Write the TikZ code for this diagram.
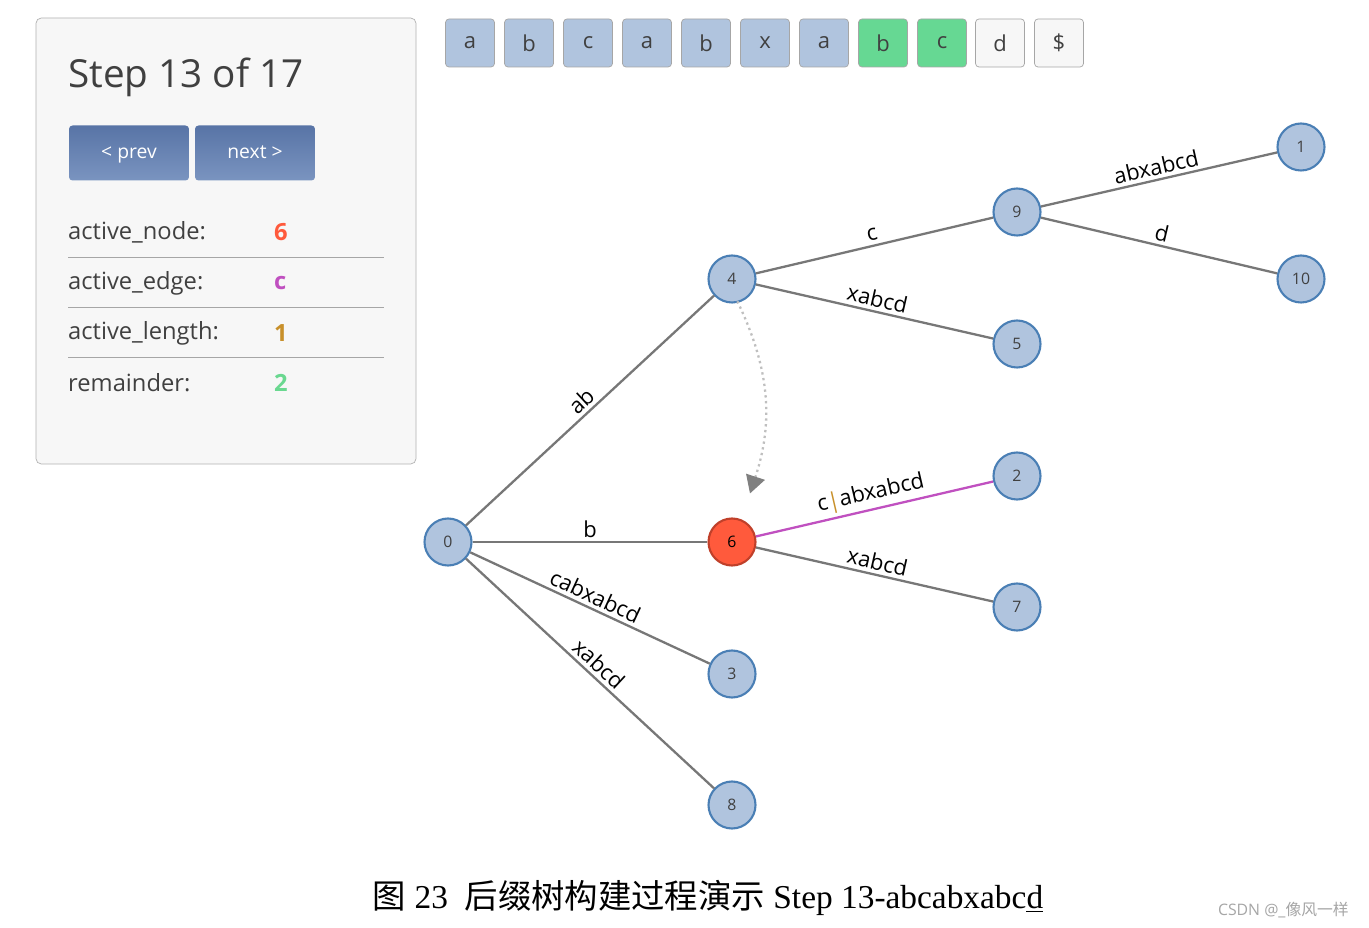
\documentclass[tikz,border=0pt]{standalone}
\usepackage{fontspec}
\setmainfont{Open Sans}
\newfontfamily\capfont{Liberation Serif}
\newfontfamily\cjk{Noto Sans CJK SC}
\usetikzlibrary{positioning, arrows.meta, calc, shadings}
\definecolor{nodeblue}{HTML}{B0C4DE}
\definecolor{nodeedge}{HTML}{4A7FB5}
\definecolor{activered}{HTML}{FF5A3C}
\definecolor{activeedge}{HTML}{C0402A}
\definecolor{edgegray}{HTML}{777777}
\definecolor{magentaedge}{HTML}{C050C0}
\definecolor{lengthgold}{HTML}{C8902A}
\definecolor{remgreen}{HTML}{6AD890}
\definecolor{cellgreen}{HTML}{66D893}
\definecolor{textgray}{HTML}{404040}
\definecolor{buttontop}{HTML}{5874A6}
\definecolor{buttonbottom}{HTML}{7A94C0}
\tikzset{
    tnode/.style={circle, draw=nodeedge, fill=nodeblue, line width=1.2pt,
      minimum size=0.94cm, inner sep=0pt, font=\fontsize{9}{10}\selectfont, text=textgray},
    activenode/.style={tnode, draw=activeedge, fill=activered, text=black},
    tedge/.style={draw=edgegray, line width=1.3pt},
    elabel/.style={sloped, above, font=\fontsize{12.5}{14}\selectfont, inner sep=2pt},
    cell/.style={draw=gray!70, rounded corners=2pt, minimum width=0.98cm,
      minimum height=0.96cm, font=\fontsize{12.5}{14}\selectfont, text=textgray},
    button/.style={rounded corners=2pt, top color=buttontop, bottom color=buttonbottom,
      minimum width=2.4cm, minimum height=1.1cm, text height=8pt, text depth=2pt,
      text=white, font=\fontsize{11}{13}\selectfont},
    rowlabel/.style={anchor=west, font=\fontsize{13.5}{16}\selectfont, text=textgray},
    rowvalue/.style={anchor=west, font=\bfseries\fontsize{13.5}{16}\selectfont},
}
\begin{document}
\begin{tikzpicture}[x=0.02cm, y=-0.02cm]
    \useasboundingbox[fill=white] (0,0) rectangle (1369,928);

    % control panel
    \draw[draw=gray!60, fill=black!3, rounded corners=3pt] (36,18) rectangle (416,464);
    \node[anchor=west, font=\fontsize{22}{26}\selectfont, text=textgray] (title) at (62,77) {Step 13 of 17};
    \node[button] (prev) at (129,153) {< prev};
    \node[button] (next) at (255,153) {next >};
    \node[rowlabel] (an) at (62,232) {active\_node:};
    \node[rowlabel] (ae) at (62,283) {active\_edge:};
    \node[rowlabel] (al) at (62,333) {active\_length:};
    \node[rowlabel] (rm) at (62,383) {remainder:};
    \node[rowvalue, text=activered] (anv) at (268,232) {6};
    \node[rowvalue, text=magentaedge] (aev) at (268,283) {c};
    \node[rowvalue, text=lengthgold] (alv) at (268,333) {1};
    \node[rowvalue, text=remgreen] (rmv) at (268,383) {2};
    \foreach \y in {257,307,357}
      \draw[gray!70] (68,\y) -- (384,\y);

    % input string
    \foreach \ch [count=\i from 0] in {a,b,c,a,b,x,a} {
      \node[cell, fill=nodeblue] (s\i) at (470+59*\i,43) {\ch};
    }
    \node[cell, fill=cellgreen] (s7) at (883,43) {b};
    \node[cell, fill=cellgreen] (s8) at (942,43) {c};
    \node[cell, fill=black!3] (s9) at (1000,43) {d};
    \node[cell, fill=black!3] (s10) at (1059,43) {\$};

    % suffix tree
    \node[tnode] (n0) at (448,542) {0};
    \node[tnode] (n4) at (732,279) {4};
    \node[activenode] (n6) at (732,542) {6};
    \node[tnode] (n3) at (732,674) {3};
    \node[tnode] (n8) at (732,805) {8};
    \node[tnode] (n9) at (1017,212) {9};
    \node[tnode] (n5) at (1017,344) {5};
    \node[tnode] (n2) at (1017,476) {2};
    \node[tnode] (n7) at (1017,607) {7};
    \node[tnode] (n1) at (1301,147) {1};
    \node[tnode] (n10) at (1301,279) {10};

    \draw[tedge] (n0) -- node[elabel] {ab} (n4);
    \draw[tedge] (n0) -- node[elabel] {b} (n6);
    \draw[tedge] (n0) -- node[elabel] {cabxabcd} (n3);
    \draw[tedge] (n0) -- node[elabel] {xabcd} (n8);
    \draw[tedge] (n4) -- node[elabel] {c} (n9);
    \draw[tedge] (n4) -- node[elabel] {xabcd} (n5);
    \draw[tedge] (n9) -- node[elabel] {abxabcd} (n1);
    \draw[tedge] (n9) -- node[elabel] {d} (n10);
    \draw[tedge, draw=magentaedge] (n6) -- node[elabel] {c\textcolor{lengthgold}{|}abxabcd} (n2);
    \draw[tedge] (n6) -- node[elabel] {xabcd} (n7);

    % suffix link
    \draw[gray!50, line width=1.3pt, dotted, -{Triangle[length=10pt, width=11pt, color=gray]}]
      (n4.south east) ++(-12,5) to[bend left=22] ($(n6.north)+(18,-24)$);

    % caption
    \node[font=\fontsize{19}{22}\selectfont] (caption) at (708,898)
      {\cjk 图\capfont{} 23\enspace\cjk 后缀树构建过程演示\capfont{} Step 13-abcabxabc\underline{d}};
    \node[anchor=east, font=\fontsize{9}{11}\selectfont, text=gray!70] (mark) at (1355,910)
      {CSDN @\_\cjk 像风一样};
\end{tikzpicture}
\end{document}
